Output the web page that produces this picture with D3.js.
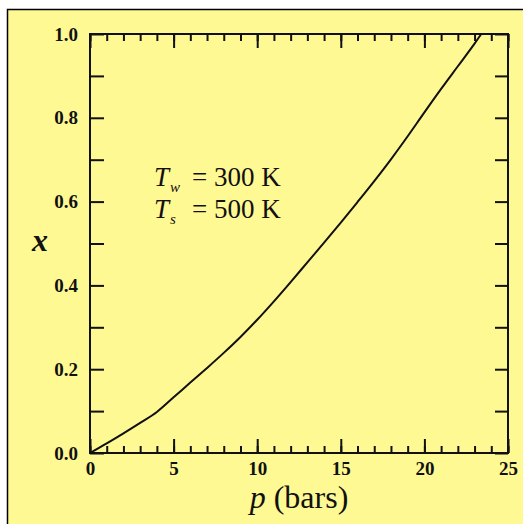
<!DOCTYPE html>
<html lang="en">
  <head>
    <meta charset="utf-8" />
    <title>x vs p</title>
    <script type="text/javascript" src="https://cdn.jsdelivr.net/npm/d3@7"></script>
    <style type="text/css">
      body { margin: 0; background: #ffffff; }
      text { font-family: "Liberation Serif", "Times New Roman", serif; }
    </style>
  </head>

  <body>
    <script type="text/javascript">
      const pressure = [0, 1, 2, 3, 4, 5, 6, 7, 8, 9, 10, 11, 12, 13, 14, 15, 16, 17, 18, 19, 20, 21, 22, 23, 23.4];
      const fraction = [0, 0.023, 0.047, 0.072, 0.098, 0.133, 0.168, 0.203, 0.239, 0.277, 0.318, 0.362, 0.408, 0.455, 0.502, 0.55, 0.599, 0.649, 0.701, 0.756, 0.813, 0.869, 0.923, 0.977, 1.0];
      const xMajor = [0, 5, 10, 15, 20, 25];
      const xMinor = d3.range(0, 26, 1);
      const yTicks = [0, 0.1, 0.2, 0.3, 0.4, 0.5, 0.6, 0.7, 0.8, 0.9, 1.0];
      const yLabelled = [0, 0.2, 0.4, 0.6, 0.8, 1.0];

      const W = 523, H = 524;
      const mLeft = 90, mRight = 508, mTop = 34, mBottom = 453;

      const svg = d3.select("body").append("svg")
        .attr("width", W)
        .attr("height", H);

      // yellow panel with black frame
      svg.append("rect")
        .attr("x", 7.5).attr("y", 9.5)
        .attr("width", W).attr("height", H)
        .attr("fill", "#fff994")
        .attr("stroke", "#000")
        .attr("stroke-width", 1.5);

      const x = d3.scaleLinear().domain([0, 25]).range([mLeft, mRight]);
      const y = d3.scaleLinear().domain([0, 1]).range([mBottom, mTop]);

      function styleAxis(g) {
        g.attr("font-size", 19);
        g.select(".domain").remove();
        g.selectAll(".tick line").attr("stroke", "#111").attr("stroke-width", 2);
        g.selectAll("text").attr("fill", "#111").attr("font-weight", "bold");
      }

      // bottom minor + major
      svg.append("g")
        .attr("transform", `translate(0,${mBottom})`)
        .call(d3.axisBottom(x).tickValues(xMinor).tickSize(-7).tickFormat(""))
        .call(styleAxis);
      svg.append("g")
        .attr("transform", `translate(0,${mBottom})`)
        .call(d3.axisBottom(x).tickValues(xMajor).tickSize(-14).tickPadding(9).tickFormat(d3.format("d")))
        .call(styleAxis);

      // top minor + major
      svg.append("g")
        .attr("transform", `translate(0,${mTop})`)
        .call(d3.axisTop(x).tickValues(xMinor).tickSize(-7).tickFormat(""))
        .call(styleAxis);
      svg.append("g")
        .attr("transform", `translate(0,${mTop})`)
        .call(d3.axisTop(x).tickValues(xMajor).tickSize(-14).tickFormat(""))
        .call(styleAxis);

      // left and right
      svg.append("g")
        .attr("transform", `translate(${mLeft},0)`)
        .call(d3.axisLeft(y).tickValues(yTicks).tickSize(-14).tickPadding(12)
          .tickFormat(d => yLabelled.some(v => Math.abs(v - d) < 1e-9) ? d.toFixed(1) : ""))
        .call(styleAxis);
      svg.append("g")
        .attr("transform", `translate(${mRight},0)`)
        .call(d3.axisRight(y).tickValues(yTicks).tickSize(-13).tickFormat(""))
        .call(styleAxis);

      // plot frame
      svg.append("rect")
        .attr("x", mLeft).attr("y", mTop)
        .attr("width", mRight - mLeft).attr("height", mBottom - mTop)
        .attr("fill", "none")
        .attr("stroke", "#111")
        .attr("stroke-width", 2);

      // curve
      const line = d3.line()
        .x((d, i) => x(pressure[i]))
        .y(d => y(d))
        .curve(d3.curveMonotoneX);
      svg.append("path")
        .datum(fraction)
        .attr("d", line)
        .attr("fill", "none")
        .attr("stroke", "#111")
        .attr("stroke-width", 2);

      // axis titles
      const xt = svg.append("text")
        .attr("x", (mLeft + mRight) / 2)
        .attr("y", 508)
        .attr("text-anchor", "middle")
        .attr("font-size", 32)
        .attr("fill", "#111");
      xt.append("tspan").attr("font-style", "italic").text("p");
      xt.append("tspan").text(" (bars)");

      svg.append("text")
        .attr("x", 40)
        .attr("y", 251)
        .attr("text-anchor", "middle")
        .attr("font-size", 32)
        .attr("font-style", "italic")
        .attr("font-weight", "bold")
        .attr("fill", "#111")
        .text("x");

      // annotation
      const notes = [["w", "300 K", 186], ["s", "500 K", 218]];
      notes.forEach(([sub, val, yy]) => {
        const g = svg.append("g").attr("fill", "#111");
        g.append("text").attr("x", 154).attr("y", yy)
          .attr("font-size", 27).attr("font-style", "italic").text("T");
        g.append("text").attr("x", 170).attr("y", yy + 6)
          .attr("font-size", 15).attr("font-style", "italic").text(sub);
        g.append("text").attr("x", 192).attr("y", yy)
          .attr("font-size", 27).text("= " + val);
      });
    </script>
  </body>
</html>
